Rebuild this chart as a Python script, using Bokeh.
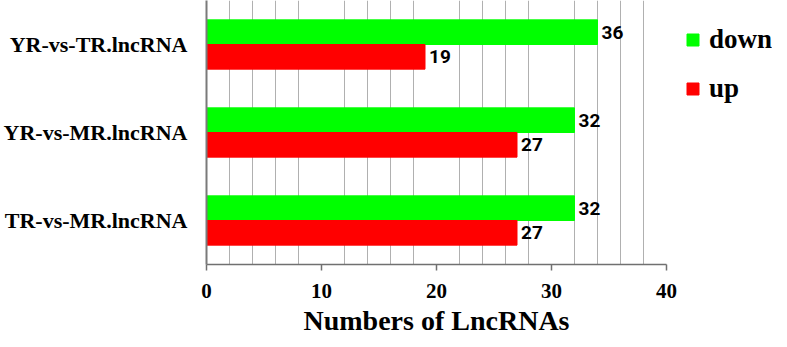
from bokeh.plotting import figure
from bokeh.models import ColumnDataSource, FactorRange, Range1d, FixedTicker, Legend, LegendItem, Title
from bokeh.transform import dodge
from bokeh.core.properties import value
from bokeh.embed import file_html
from bokeh.resources import INLINE

# data (bottom to top)
categories = ["TR-vs-MR.lncRNA", "YR-vs-MR.lncRNA", "YR-vs-TR.lncRNA"]
down_values = [32, 32, 34]          # bar lengths as drawn in the picture
down_labels = ["32", "32", "36"]    # printed value labels
up_values = [27, 27, 19]
up_labels = ["27", "27", "19"]
x_ticks = [0, 10, 20, 30, 40]
x_title = "Numbers of LncRNAs"

src = ColumnDataSource(dict(cat=categories, down=down_values, down_lbl=down_labels,
                            up=up_values, up_lbl=up_labels))

FW, FH = 566, 264          # frame; axis 0..40 occupies the first 460 px
AXIS_PX = 460
x_end = 40 * FW / AXIS_PX

p = figure(frame_width=FW, frame_height=FH, output_backend="svg", toolbar_location=None,
           y_range=FactorRange(factors=categories, range_padding=0),
           x_range=Range1d(0, x_end),
           min_border_left=205, min_border_right=0, min_border_top=0, min_border_bottom=0)
p.outline_line_color = None
p.background_fill_color = "white"
p.border_fill_color = "white"

bh = 0.28
g = p.hbar(y=dodge("cat", bh / 2, range=p.y_range), left=0, right="down", height=bh,
           source=src, fill_color="#00FF00", line_color="#00FF00")
r = p.hbar(y=dodge("cat", -bh / 2, range=p.y_range), left=0, right="up", height=bh,
           source=src, fill_color="#FF0000", line_color="#FF0000")

p.text(x="down", y=dodge("cat", bh / 2, range=p.y_range), text="down_lbl", source=src,
       x_offset=4, text_baseline="middle", text_align="left",
       text_font=value("Roboto"), text_font_style="bold", text_font_size="19px", text_color="black")
p.text(x="up", y=dodge("cat", -bh / 2, range=p.y_range), text="up_lbl", source=src,
       x_offset=4, text_baseline="middle", text_align="left",
       text_font=value("Roboto"), text_font_style="bold", text_font_size="19px", text_color="black")

# grid
p.ygrid.visible = False
p.xgrid.ticker = FixedTicker(ticks=[t for t in range(2, 40, 2) if t % 10 != 0])
p.xgrid.grid_line_color = "#b0b0b0"
p.xgrid.grid_line_width = 1

# x axis
xa = p.xaxis[0]
xa.bounds = (0, 40)
xa.ticker = FixedTicker(ticks=x_ticks)
xa.axis_line_color = "#707070"
xa.axis_line_width = 1.5
xa.major_tick_line_color = "#707070"
xa.major_tick_line_width = 1.5
xa.major_tick_out = 6
xa.major_tick_in = 0
xa.minor_tick_line_color = None
xa.major_label_standoff = 13
xa.major_label_text_font = "Liberation Serif"
xa.major_label_text_font_style = "bold"
xa.major_label_text_font_size = "21px"
xa.major_label_text_color = "black"

# x title centred under the 0..40 part of the axis
p.add_layout(Title(text=x_title, align="left", offset=97, standoff=4,
                   text_font="Liberation Serif", text_font_style="bold",
                   text_font_size="28px", text_color="black"), "below")

# y axis
ya = p.yaxis[0]
ya.axis_line_color = "#7a7a7a"
ya.axis_line_width = 2
ya.major_tick_line_color = None
ya.major_tick_out = 0
ya.major_tick_in = 0
ya.minor_tick_line_color = None
ya.major_label_standoff = 19
ya.major_label_text_font = "Liberation Serif"
ya.major_label_text_font_style = "bold"
ya.major_label_text_font_size = "22px"
ya.major_label_text_color = "black"

legend = Legend(items=[LegendItem(label="down", renderers=[g]),
                       LegendItem(label="up", renderers=[r])],
                location=(AXIS_PX + 19, FH - 14 - 90), orientation="vertical",
                glyph_width=15, glyph_height=15, label_height=30, spacing=18,
                padding=0, margin=0, label_standoff=9,
                label_text_font="Liberation Serif", label_text_font_style="bold",
                label_text_font_size="27px", label_text_color="black",
                border_line_color=None, background_fill_alpha=0)
p.add_layout(legend, "center")

open("out.html", "w").write(file_html(p, INLINE))
